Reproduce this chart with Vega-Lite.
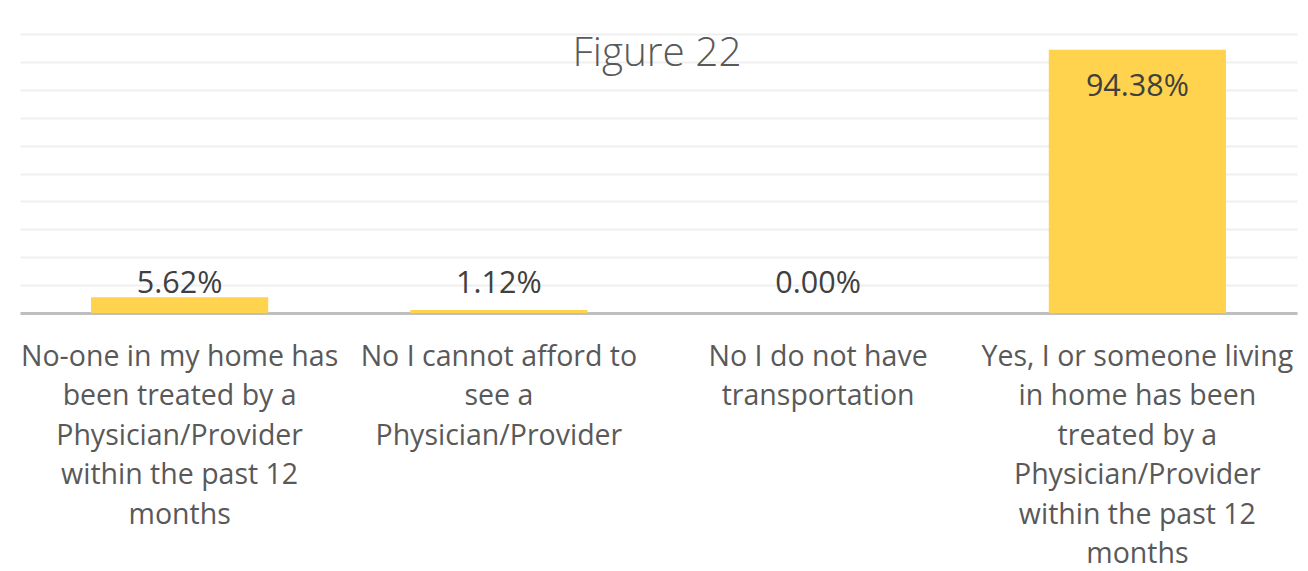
{
  "$schema": "https://vega.github.io/schema/vega-lite/v6.json",
  "width": 1277,
  "height": 279,
  "autosize": {"type": "none"},
  "padding": {"left": 20, "top": 34, "right": 11, "bottom": 258},
  "background": "#ffffff",
  "title": {
    "text": "Figure 22",
    "anchor": "middle",
    "orient": "none",
    "frame": "group",
    "baseline": "top",
    "dx": 637,
    "dy": 0,
    "font": "Open Sans",
    "fontSize": 40.5,
    "fontWeight": 300,
    "color": "#595959"
  },
  "data": {
    "values": [
      {"category": "No-one in my home has\nbeen treated by a\nPhysician/Provider\nwithin the past 12\nmonths", "value": 0.0562},
      {"category": "No I cannot afford to\nsee a\nPhysician/Provider", "value": 0.0112},
      {"category": "No I do not have\ntransportation", "value": 0.0},
      {"category": "Yes, I or someone living\nin home has been\ntreated by a\nPhysician/Provider\nwithin the past 12\nmonths", "value": 0.9438}
    ]
  },
  "encoding": {
    "x": {
      "field": "category",
      "type": "nominal",
      "sort": null,
      "scale": {"paddingInner": 0.445, "paddingOuter": 0.2225},
      "axis": {
        "title": null,
        "labelAngle": 0,
        "labelExpr": "split(datum.value, '\\n')",
        "labelLimit": 0,
        "labelFont": "Open Sans",
        "labelFontSize": 28.5,
        "labelLineHeight": 39.5,
        "labelColor": "#595959",
        "labelBaseline": "top",
        "labelPadding": 29,
        "ticks": false,
        "domain": true,
        "domainColor": "#BFBFBF",
        "domainWidth": 3,
        "grid": false
      }
    }
  },
  "layer": [
    {
      "mark": {"type": "bar", "color": "#FFD34D"},
      "encoding": {
        "y": {
          "field": "value",
          "type": "quantitative",
          "scale": {"domain": [0, 1]},
          "axis": {
            "title": null,
            "labels": false,
            "ticks": false,
            "domain": false,
            "tickCount": 11,
            "values": [0, 0.1, 0.2, 0.3, 0.4, 0.5, 0.6, 0.7, 0.8, 0.9, 1.0],
            "gridColor": "#EFEFEF",
            "gridWidth": 2
          }
        }
      }
    },
    {
      "transform": [{"filter": "datum.value < 0.5"}],
      "mark": {"type": "text", "font": "Open Sans", "fontSize": 30.5, "color": "#404040", "baseline": "middle"},
      "encoding": {
        "y": {"datum": 0, "type": "quantitative"},
        "yOffset": {"value": -29},
        "text": {"field": "value", "type": "quantitative", "format": ".2%"}
      }
    },
    {
      "transform": [{"filter": "datum.value >= 0.5"}],
      "mark": {"type": "text", "font": "Open Sans", "fontSize": 30.5, "color": "#404040", "baseline": "middle"},
      "encoding": {
        "y": {"field": "value", "type": "quantitative"},
        "yOffset": {"value": 37},
        "text": {"field": "value", "type": "quantitative", "format": ".2%"}
      }
    }
  ],
  "config": {
    "view": {"stroke": null}
  }
}
